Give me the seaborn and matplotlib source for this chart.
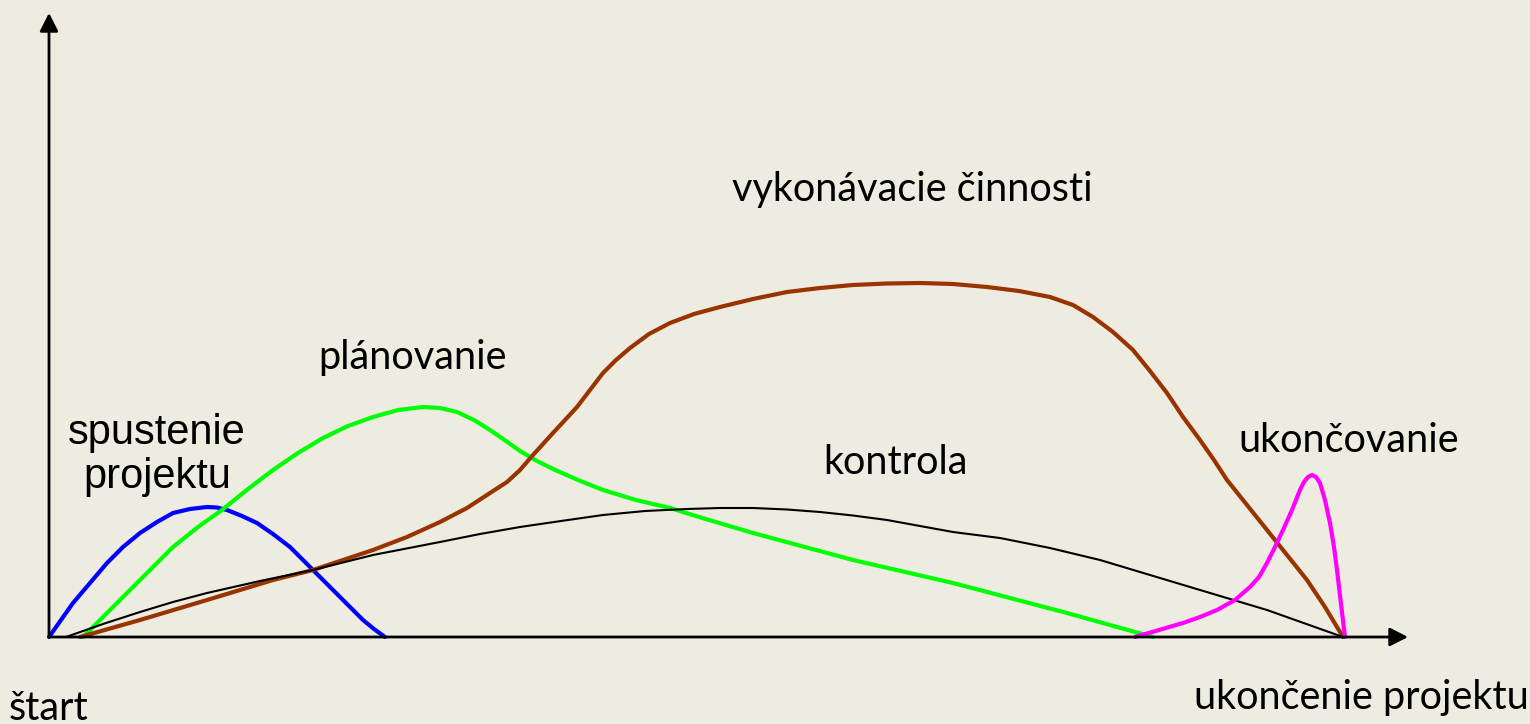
import matplotlib
matplotlib.use('Agg')
import matplotlib.pyplot as plt
import seaborn as sns
import pandas as pd

# ── Dáta (čas od štartu, intenzita činnosti) ──────────────────────────────────
spustenie_t = [0, 12, 24, 41, 58, 74, 91, 108, 124, 141, 158, 168, 178, 193,
               208, 224, 241, 252, 264, 278, 291, 303, 314, 325, 336]
spustenie_v = [0, 17, 34, 54, 74, 90, 104, 115, 124, 128, 130, 129.5, 127, 121,
               114, 103, 90, 79, 67, 53, 40, 28, 17, 8, 0]

planovanie_t = [34, 54, 74, 99, 124, 149, 173, 199, 224, 249, 274, 299, 324,
                349, 374, 391, 408, 425, 441, 457, 471, 488, 504, 529, 554,
                587, 621, 660, 704, 804, 904, 1018, 1104]
planovanie_v = [0, 20, 40, 65, 90, 110, 127, 148, 167, 184, 199, 211, 220,
                227, 230, 229, 225, 217, 207, 196, 186, 176, 168, 157, 147,
                137, 129, 117, 104, 77, 54, 24, 0]

vykonavanie_t = [31, 91, 158, 224, 264, 324, 358, 391, 418, 441, 458, 471,
                 484, 494, 504, 516, 528, 541, 554, 567, 581, 600, 621, 645,
                 671, 704, 738, 771, 804, 838, 871, 904, 938, 970, 1001, 1024,
                 1044, 1064, 1084, 1101, 1118, 1134, 1151, 1165, 1178, 1198,
                 1218, 1238, 1258, 1276, 1294]
vykonavanie_v = [0, 17, 37, 57, 67, 87, 100, 115, 129, 144, 155, 167,
                 182, 193, 204, 217, 230, 247, 264, 277, 289, 303, 314, 323,
                 330, 338, 345, 349, 352, 353.5, 354, 353, 350, 346, 340, 332,
                 320, 305, 287, 266, 244, 220, 197, 177, 157, 132,
                 107, 82, 57, 30, 0]

kontrola_t = [17, 54, 91, 124, 158, 211, 264, 324, 391, 431, 471, 512, 554,
              596, 638, 671, 704, 738, 771, 804, 838, 871, 904, 951, 1001,
              1051, 1101, 1151, 1218, 1294]
kontrola_v = [0, 13, 25, 35, 44, 56, 67, 82, 95, 103, 110, 116, 122,
              126, 128, 129, 129, 127.5, 125, 121.5, 117, 111, 105, 99, 89,
              77, 62, 47, 27, 0]

ukoncovanie_t = [1086, 1110, 1134, 1151, 1168, 1186, 1201, 1210, 1218, 1226,
                 1234, 1243, 1251, 1255, 1259, 1263, 1267, 1271, 1276, 1281,
                 1285, 1288, 1292, 1296]
ukoncovanie_v = [0, 7, 14, 20, 27, 37, 50, 60, 74, 90,
                 107, 127, 147, 155, 160, 162, 160, 154, 137, 114,
                 90, 67, 33, 0]

krivky = [
    (spustenie_t, spustenie_v, '#0000FF', 3.0),
    (planovanie_t, planovanie_v, '#00FF00', 3.0),
    (vykonavanie_t, vykonavanie_v, '#993300', 3.0),
    (kontrola_t, kontrola_v, '#000000', 1.5),
    (ukoncovanie_t, ukoncovanie_v, '#FF00FF', 3.0),
]

popisy = [
    ('spustenie\nprojektu', 108, 182, 'Liberation Sans', 30),
    ('plánovanie', 364, 280, 'Lato', 28.5),
    ('vykonávacie činnosti', 863, 447, 'Lato', 28.5),
    ('kontrola', 847, 174, 'Lato', 28.5),
    ('ukončovanie', 1300, 197, 'Lato', 28.5),
    ('štart', 0, -71, 'Lato', 28.5),
    ('ukončenie projektu', 1312, -60, 'Lato', 28.5),
]

T_END = 1359
V_END = 624
BG = '#EEECE1'

# ── Graf ──────────────────────────────────────────────────────────────────────
sns.set_theme(style='white', rc={'figure.facecolor': BG, 'axes.facecolor': BG})

fig = plt.figure(figsize=(15.3, 7.24), dpi=100)
ax = fig.add_axes([0, 0, 1, 1])

for t, v, farba, hrubka in krivky:
    df = pd.DataFrame({'t': t, 'v': v})
    sns.lineplot(data=df, x='t', y='v', sort=False, estimator=None,
                 color=farba, lw=hrubka, ax=ax, legend=False,
                 solid_joinstyle='round')

# osi so šípkami
sipka = dict(arrowstyle='-|>,head_length=0.55,head_width=0.28',
             mutation_scale=20, color='black', lw=2, shrinkA=0, shrinkB=0)
ax.annotate('', xy=(T_END, 0), xytext=(0, 0), arrowprops=sipka)
ax.annotate('', xy=(0, V_END), xytext=(0, 0), arrowprops=sipka)

for txt, x, y, font, size in popisy:
    ax.text(x, y, txt, ha='center', va='center', fontsize=size,
            family=font, color='black', linespacing=1.1,
            multialignment='center')

ax.set_xlim(-49, 1481)
ax.set_ylim(-87, 637)
ax.axis('off')

plt.savefig('out.png', dpi=100, facecolor=BG)
plt.close()
